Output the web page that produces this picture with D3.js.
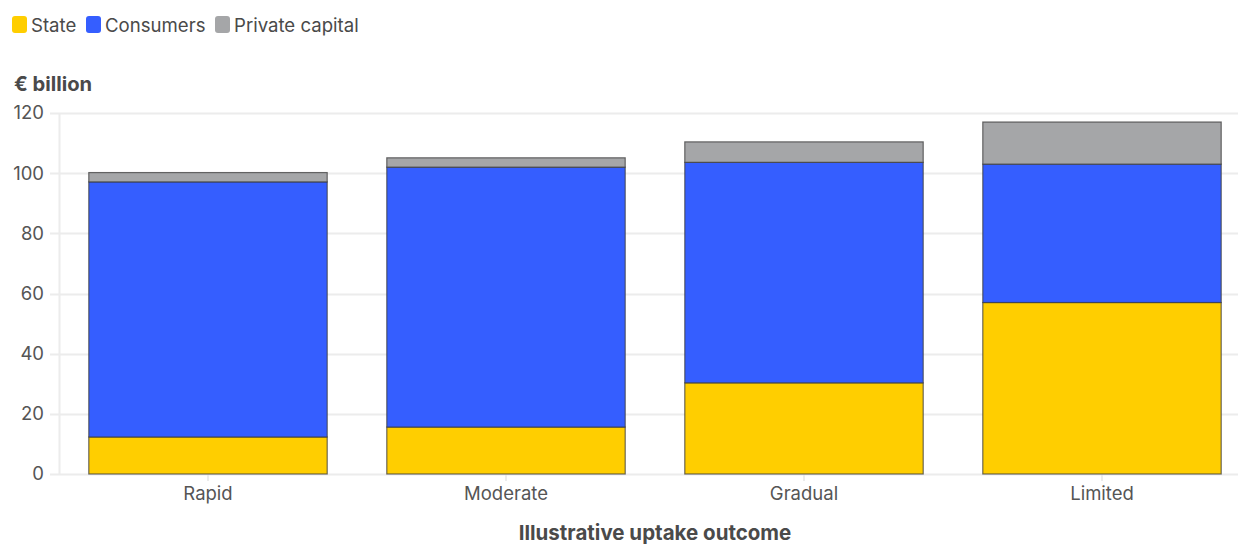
<!DOCTYPE html>
<html>
<head>
<meta charset="utf-8">
<script src="https://cdn.jsdelivr.net/npm/d3@7"></script>
<style>
  body { margin: 0; background: #fff; font-family: Inter, "Noto Sans", sans-serif; }
  .legend-item { font-size: 18.6px; fill: #4a4a4a; }
</style>
</head>
<body>
<svg id="chart" width="1238" height="544"></svg>
<script>
const outcomes = ["Rapid", "Moderate", "Gradual", "Limited"];
const seriesNames = ["State", "Consumers", "Private capital"];
const stateValues = [12.3, 15.6, 30.3, 57.0];
const consumerValues = [84.8, 86.4, 73.3, 46.0];
const privateValues = [3.1, 3.1, 6.8, 14.0];
const yTicks = [0, 20, 40, 60, 80, 100, 120];

const colors = ["#ffce00", "#355eff", "#a5a6a8"];

const width = 1238, height = 544;
const svg = d3.select("#chart");

const rows = outcomes.map((o, i) => ({
    outcome: o,
    "State": stateValues[i],
    "Consumers": consumerValues[i],
    "Private capital": privateValues[i]
}));

const stack = d3.stack().keys(seriesNames);
const layers = stack(rows);

const x = d3.scaleBand()
    .domain(outcomes)
    .range([59, 1251])
    .paddingInner(0.2)
    .paddingOuter(0.1);

const y = d3.scaleLinear()
    .domain([0, 120])
    .range([474, 113]);

// gridlines
svg.append("g")
    .selectAll("line")
    .data(yTicks)
    .enter()
    .append("line")
    .attr("x1", 50)
    .attr("x2", width)
    .attr("y1", d => Math.round(y(d)) + 0.5)
    .attr("y2", d => Math.round(y(d)) + 0.5)
    .attr("stroke", "#ececec")
    .attr("stroke-width", 2);

// y axis line
svg.append("line")
    .attr("x1", 59.5).attr("x2", 59.5)
    .attr("y1", y(120)).attr("y2", y(0))
    .attr("stroke", "#ececec")
    .attr("stroke-width", 2);

// y tick labels
svg.append("g")
    .selectAll("text")
    .data(yTicks)
    .enter()
    .append("text")
    .attr("x", 44)
    .attr("y", d => y(d))
    .attr("dy", "0.35em")
    .attr("text-anchor", "end")
    .style("font-size", "18.5px")
    .style("fill", "#555")
    .text(d => d);

// x ticks
svg.append("g")
    .selectAll("line")
    .data(outcomes)
    .enter()
    .append("line")
    .attr("x1", d => x(d) + x.bandwidth() / 2)
    .attr("x2", d => x(d) + x.bandwidth() / 2)
    .attr("y1", y(0))
    .attr("y2", y(0) + 7)
    .attr("stroke", "#e6e6e6")
    .attr("stroke-width", 1.5);

// bars
svg.append("g")
    .selectAll("g")
    .data(layers)
    .enter()
    .append("g")
    .attr("fill", (d, i) => colors[i])
    .selectAll("rect")
    .data(d => d)
    .enter()
    .append("rect")
    .attr("x", d => x(d.data.outcome))
    .attr("y", d => y(d[1]))
    .attr("width", x.bandwidth())
    .attr("height", d => y(d[0]) - y(d[1]))
    .attr("stroke", "#3c3c3c")
    .attr("stroke-opacity", 0.75)
    .attr("stroke-width", 1.2);

// x labels
svg.append("g")
    .selectAll("text")
    .data(outcomes)
    .enter()
    .append("text")
    .attr("x", d => x(d) + x.bandwidth() / 2)
    .attr("y", 494)
    .attr("dy", "0.35em")
    .attr("text-anchor", "middle")
    .style("font-size", "18.5px")
    .style("fill", "#555")
    .text(d => d);

// axis titles
svg.append("text")
    .attr("x", 14)
    .attr("y", 84)
    .attr("dy", "0.35em")
    .style("font-size", "20.2px")
    .style("font-weight", "bold")
    .style("fill", "#4a4a4a")
    .text("€ billion");

svg.append("text")
    .attr("x", 655)
    .attr("y", 533)
    .attr("dy", "0.35em")
    .attr("text-anchor", "middle")
    .style("font-size", "20.5px")
    .style("font-weight", "bold")
    .style("fill", "#4a4a4a")
    .text("Illustrative uptake outcome");

// legend
const legendX = [12, 86, 215];
const legend = svg.append("g");
legend.selectAll("rect")
    .data(seriesNames)
    .enter()
    .append("rect")
    .attr("x", (d, i) => legendX[i])
    .attr("y", 16)
    .attr("width", 15)
    .attr("height", 17)
    .attr("rx", 3)
    .attr("fill", (d, i) => colors[i]);

legend.selectAll("text")
    .data(seriesNames)
    .enter()
    .append("text")
    .attr("class", "legend-item")
    .attr("x", (d, i) => legendX[i] + 19)
    .attr("y", 25)
    .attr("dy", "0.35em")
    .text(d => d);
</script>
</body>
</html>
